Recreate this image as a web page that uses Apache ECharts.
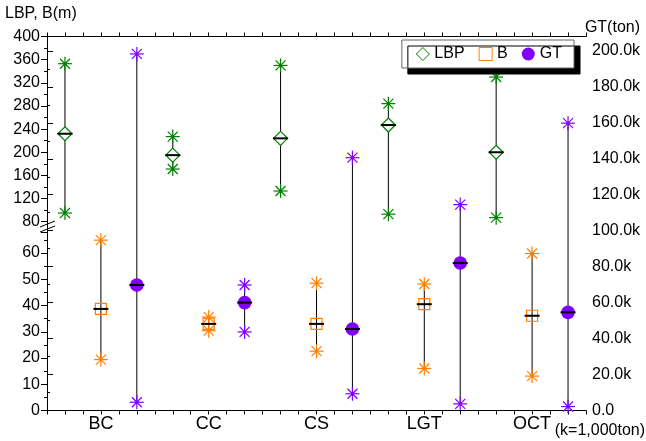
<!DOCTYPE html>
<html><head><meta charset="utf-8">
<script src="https://cdn.jsdelivr.net/npm/echarts@6/dist/echarts.min.js"></script>
<style>html,body{margin:0;padding:0;background:#fff}#c{width:646px;height:441px}</style>
</head><body><div id="c"></div>
<script>
// ---- data ----
const categories = ['BC', 'CC', 'CS', 'LGT', 'OCT'];
const lbpMin  = [95, 171, 133, 93, 87];
const lbpMean = [232, 195, 224, 247, 200];
const lbpMax  = [353, 227, 350, 284, 330];
const bMin  = [19.4, 30.4, 22.6, 16.0, 13.1];
const bMean = [38.7, 33.0, 33.0, 40.5, 36.1];
const bMax  = [64.9, 35.6, 48.5, 48.2, 59.8];
// GT in thousands of tons
const gtMin  = [4.6, 43.7, 9.3, 3.7, 2.2];
const gtMean = [69.8, 60.0, 45.3, 82.0, 54.6];
const gtMax  = [198.3, 69.8, 140.6, 114.5, 159.8];

const FONT = 'Liberation Sans, Arial, sans-serif';
const cGreen = '#008000', cOrange = '#FF8000', cPurple = '#8000FF';
const L = 47, R = 60;

function makeRender(kind, color) {
  return function (params, api) {
    const x = api.value(0);
    const pMin = api.coord([x, api.value(1)]);
    const pMean = api.coord([x, api.value(2)]);
    const pMax = api.coord([x, api.value(3)]);
    const ch = [];
    ch.push({type: 'line', shape: {x1: pMin[0], y1: pMin[1], x2: pMax[0], y2: pMax[1]}, style: {stroke: '#000', lineWidth: 1}});
    [pMin, pMax].forEach(p => {
      const r = 7, d = 5;
      const segs = [[0, -r, 0, r], [-r, 0, r, 0], [-d, -d, d, d], [-d, d, d, -d]];
      segs.forEach(s => ch.push({type: 'line', shape: {x1: p[0] + s[0], y1: p[1] + s[1], x2: p[0] + s[2], y2: p[1] + s[3]}, style: {stroke: color, lineWidth: 1.2}}));
      ch.push({type: 'circle', shape: {cx: p[0], cy: p[1], r: 1.6}, style: {fill: color}});
    });
    const cx = pMean[0], cy = pMean[1];
    if (kind === 'diamond') {
      ch.push({type: 'polygon', shape: {points: [[cx, cy - 7], [cx + 7, cy], [cx, cy + 7], [cx - 7, cy]]}, style: {fill: '#fff', stroke: color, lineWidth: 1.2}});
    } else if (kind === 'square') {
      ch.push({type: 'rect', shape: {x: cx - 5.5, y: cy - 5.5, width: 11, height: 11}, style: {fill: 'rgba(0,0,0,0)', stroke: color, lineWidth: 1.2}});
    } else {
      ch.push({type: 'circle', shape: {cx: cx, cy: cy, r: 6.8}, style: {fill: color}});
    }
    ch.push({type: 'line', shape: {x1: cx - 7.5, y1: cy, x2: cx + 7.5, y2: cy}, style: {stroke: '#000', lineWidth: 2}});
    return {type: 'group', children: ch};
  };
}

const axisLineBlack = {show: true, lineStyle: {color: '#000', width: 1}};
const labelStyle = {color: '#000', fontSize: 16, fontFamily: FONT};

const chart = echarts.init(document.getElementById('c'), null, {renderer: 'canvas'});
chart.setOption({
  animation: false,
  backgroundColor: '#fff',
  grid: [
    {left: L, right: R, top: 36.5, height: 185.2},
    {left: L, right: R, top: 232, height: 178.5},
    {left: L, right: R, top: 36.5, height: 374}
  ],
  xAxis: [
    {gridIndex: 0, type: 'value', min: 0, max: 15, show: false},
    {gridIndex: 1, type: 'value', min: 0, max: 15, show: false},
    {gridIndex: 2, type: 'value', min: 0, max: 15, interval: 0.5, position: 'bottom',
      axisLine: axisLineBlack, axisTick: {show: true, length: 4, lineStyle: {color: '#000'}},
      axisLabel: {show: false}, splitLine: {show: false}},
    {gridIndex: 2, type: 'value', min: 0, max: 15, interval: 0.5, position: 'top',
      axisLine: axisLineBlack, axisTick: {show: true, length: 4, lineStyle: {color: '#000'}},
      axisLabel: {show: false}, splitLine: {show: false}},
    {gridIndex: 2, type: 'category', data: categories, position: 'bottom',
      axisLine: {show: false}, axisTick: {show: false},
      axisLabel: {color: '#000', fontSize: 18, fontFamily: FONT, margin: 5}}
  ],
  yAxis: [
    {gridIndex: 0, type: 'value', min: 80, max: 400, interval: 40, position: 'left',
      axisLine: axisLineBlack, axisTick: {show: true, length: 6, lineStyle: {color: '#000'}},
      minorTick: {show: true, splitNumber: 2, length: 3, lineStyle: {color: '#000'}},
      axisLabel: Object.assign({margin: 7}, labelStyle), splitLine: {show: false}},
    {gridIndex: 1, type: 'value', min: 0, max: 68, interval: 10, position: 'left',
      axisLine: axisLineBlack, axisTick: {show: true, length: 6, lineStyle: {color: '#000'}},
      minorTick: {show: true, splitNumber: 2, length: 3, lineStyle: {color: '#000'}},
      axisLabel: Object.assign({margin: 7, showMaxLabel: false}, labelStyle), splitLine: {show: false}},
    {gridIndex: 2, type: 'value', min: 0, max: 208, interval: 20, position: 'right',
      axisLine: axisLineBlack, axisTick: {show: true, length: 6, lineStyle: {color: '#000'}},
      minorTick: {show: true, splitNumber: 2, length: 3, lineStyle: {color: '#000'}},
      axisLabel: Object.assign({margin: 6, showMaxLabel: false,
        formatter: v => v === 0 ? '0.0' : v.toFixed(1) + 'k'}, labelStyle),
      splitLine: {show: false}}
  ],
  legend: {
    top: 40, right: 72, orient: 'horizontal',
    backgroundColor: '#fff', borderColor: '#666', borderWidth: 1,
    shadowColor: '#000', shadowOffsetX: 6, shadowOffsetY: 6, shadowBlur: 0,
    padding: [6, 12, 6, 14], itemWidth: 13, itemHeight: 13, itemGap: 14,
    textStyle: {color: '#000', fontSize: 16, fontFamily: FONT},
    data: [
      {name: 'LBP', icon: 'diamond', itemStyle: {color: '#fff', borderColor: cGreen, borderWidth: 1}},
      {name: 'B', icon: 'rect', itemStyle: {color: '#fff', borderColor: cOrange, borderWidth: 1}},
      {name: 'GT', icon: 'circle', itemStyle: {color: cPurple}}
    ]
  },
  graphic: [
    {type: 'line', shape: {x1: 40, y1: 227, x2: 55, y2: 221}, style: {stroke: '#000', lineWidth: 1}},
    {type: 'line', shape: {x1: 40, y1: 232, x2: 55, y2: 226}, style: {stroke: '#000', lineWidth: 1}},
    {type: 'text', left: 5, top: 6, style: {text: 'LBP, B(m)', fill: '#000', font: '16px ' + FONT}},
    {type: 'text', right: 6, top: 20, style: {text: 'GT(ton)', fill: '#000', font: '16px ' + FONT}},
    {type: 'text', right: 1, top: 423, style: {text: '(k=1,000ton)', fill: '#000', font: '16px ' + FONT}}
  ],
  series: [
    {name: 'LBP', type: 'custom', xAxisIndex: 0, yAxisIndex: 0, clip: false,
      itemStyle: {color: cGreen},
      renderItem: makeRender('diamond', cGreen),
      encode: {x: 0, y: [1, 2, 3]},
      data: categories.map((c, i) => [3 * i + 0.5, lbpMin[i], lbpMean[i], lbpMax[i]])},
    {name: 'B', type: 'custom', xAxisIndex: 1, yAxisIndex: 1, clip: false,
      itemStyle: {color: cOrange},
      renderItem: makeRender('square', cOrange),
      encode: {x: 0, y: [1, 2, 3]},
      data: categories.map((c, i) => [3 * i + 1.5, bMin[i], bMean[i], bMax[i]])},
    {name: 'GT', type: 'custom', xAxisIndex: 2, yAxisIndex: 2, clip: false,
      itemStyle: {color: cPurple},
      renderItem: makeRender('circle', cPurple),
      encode: {x: 0, y: [1, 2, 3]},
      data: categories.map((c, i) => [3 * i + 2.5, gtMin[i], gtMean[i], gtMax[i]])}
  ]
});
</script>
</body></html>
